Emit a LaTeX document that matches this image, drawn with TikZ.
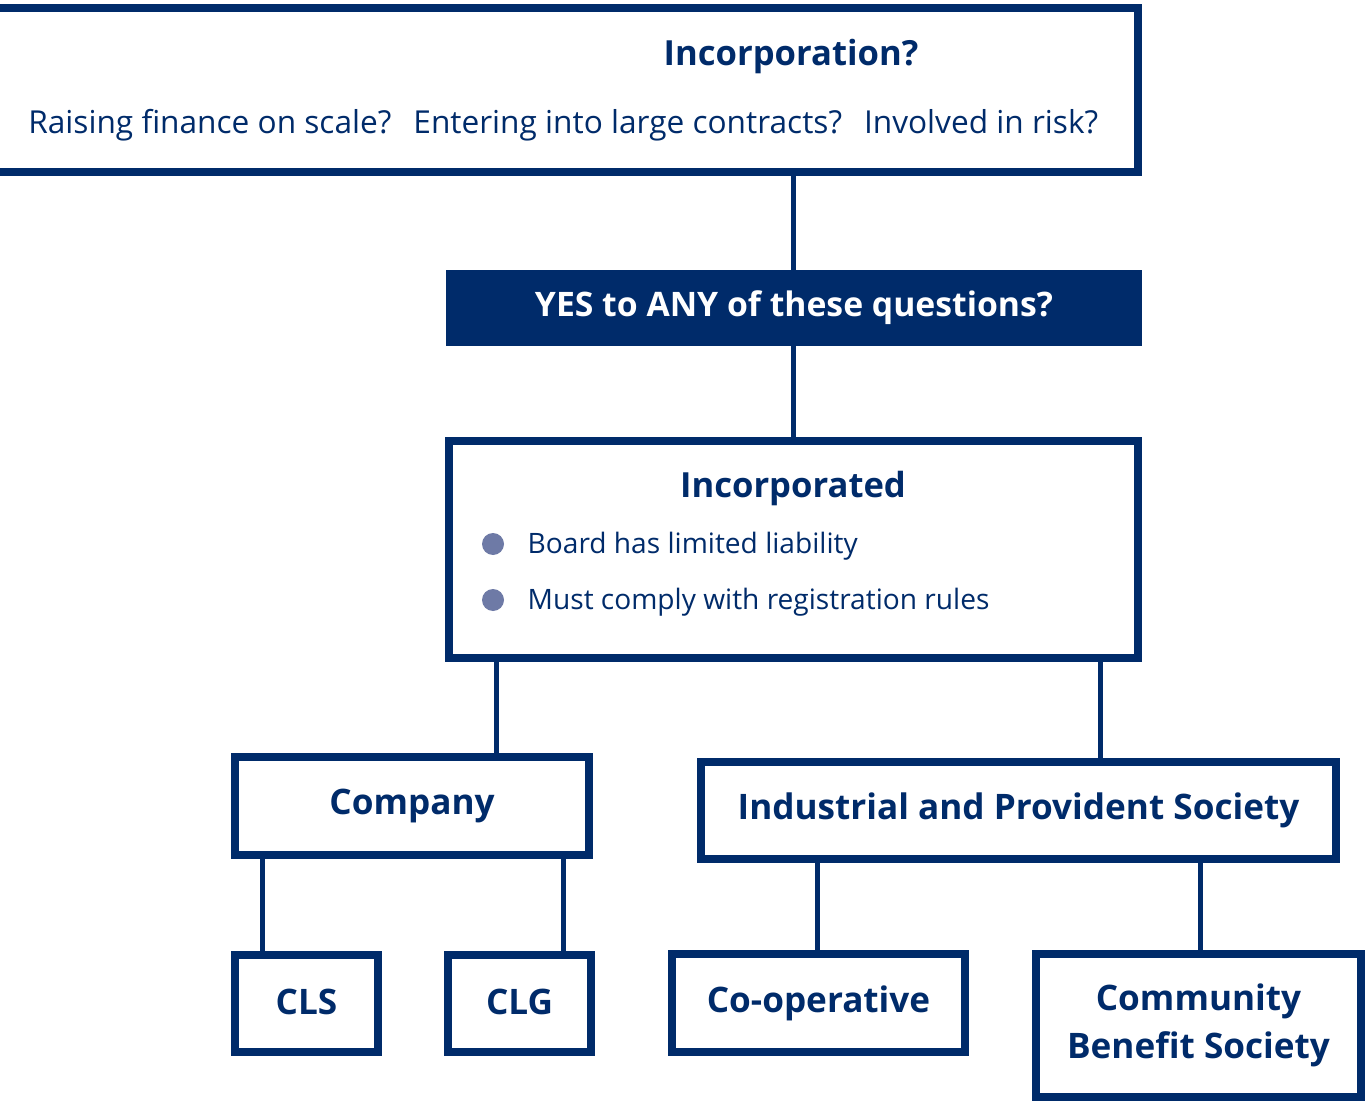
\documentclass[tikz,border=0pt]{standalone}
\usepackage{fontspec}
\setmainfont{Open Sans}
\usepackage{xcolor}
\usetikzlibrary{positioning}

\definecolor{navy}{RGB}{0,43,106}
\definecolor{dotblue}{RGB}{110,122,166}

\begin{document}
\begin{tikzpicture}[
    x=0.02cm, y=-0.02cm,
    box/.style={rectangle, draw=navy, line width=0.16cm, fill=white, align=center, text=navy, inner sep=0pt, font=\fontsize{20}{27.5}\selectfont\bfseries},
    banner/.style={rectangle, fill=navy, text=white, inner sep=0pt, font=\fontsize{19.2}{23}\selectfont\bfseries},
    heading/.style={text=navy, inner sep=0pt, font=\fontsize{19.7}{24}\selectfont\bfseries},
    txt/.style={text=navy, inner sep=0pt, anchor=west, font=\fontsize{18}{22}\selectfont},
    item/.style={text=navy, inner sep=0pt, anchor=west, font=\fontsize{16}{20}\selectfont},
    bullet/.style={circle, fill=dotblue, minimum size=0.44cm, inner sep=0pt},
    link/.style={draw=navy, line width=0.1cm},
  ]
    \useasboundingbox (0,0) rectangle (1365,1101);

    % Nodes
    \node[box, minimum width=22.96cm, minimum height=3.28cm] (question) at (564,90) {};
    \node[heading] (qtitle) at (791,57) {Incorporation?};
    \node[txt] (qline) at (28,125) {Raising finance on scale?\hspace{0.44cm}Entering into large contracts?\hspace{0.44cm}Involved in risk?};

    \node[banner, minimum width=13.92cm, minimum height=1.52cm] (yes) at (794,308) {YES to ANY of these questions?};

    \node[box, minimum width=13.78cm, minimum height=4.34cm] (inc) at (793.5,549.5) {};
    \node[heading] (inctitle) at (793,489) {Incorporated};
    \node[bullet] (b1) at (493,544) {};
    \node[item, right=0.46cm of b1, yshift=-0.05cm] (liab) {Board has limited liability};
    \node[bullet] (b2) at (493,600) {};
    \node[item, right=0.46cm of b2, yshift=-0.05cm] (rules) {Must comply with registration rules};

    \node[box, minimum width=7.08cm, minimum height=1.96cm] (company) at (412,806) {Company};
    \node[box, minimum width=12.7cm, minimum height=1.94cm] (ips) at (1018.5,810.5) {Industrial and Provident Society};

    \node[box, minimum width=2.86cm, minimum height=1.94cm] (cls) at (306.5,1003.5) {\raisebox{0.06cm}{CLS}};
    \node[box, minimum width=2.86cm, minimum height=1.94cm] (clg) at (519.5,1003.5) {\raisebox{0.06cm}{CLG}};
    \node[box, minimum width=5.86cm, minimum height=1.96cm] (coop) at (818.5,1003) {Co-operative};
    \node[box, minimum width=6.5cm, minimum height=2.86cm] (cbs) at (1198.5,1025.5) {Community\\Benefit Society};

    % Lines
    \draw[link] (question.south -| 793,0) -- (yes.north -| 793,0);
    \draw[link] (yes.south -| 793,0) -- (inc.north -| 793,0);
    \draw[link] (inc.south -| 496,0) -- (company.north -| 496,0);
    \draw[link] (inc.south -| 1100,0) -- (ips.north -| 1100,0);
    \draw[link] (company.south -| 262,0) -- (cls.north -| 262,0);
    \draw[link] (company.south -| 563,0) -- (clg.north -| 563,0);
    \draw[link] (ips.south -| 817,0) -- (coop.north -| 817,0);
    \draw[link] (ips.south -| 1200,0) -- (cbs.north -| 1200,0);

\end{tikzpicture}
\end{document}
